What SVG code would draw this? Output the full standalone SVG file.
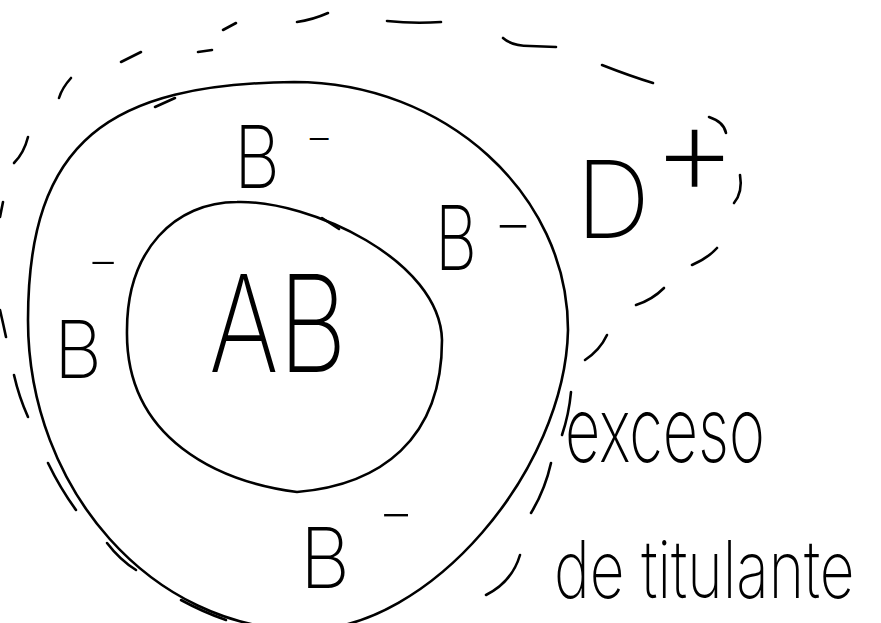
<svg xmlns="http://www.w3.org/2000/svg" width="881" height="623" viewBox="0 0 881 623">
<style>
.s{fill:none;stroke:#000;stroke-width:2.6;stroke-linecap:round;stroke-linejoin:round}
.t{font-family:Inter,Roboto,"Liberation Sans",sans-serif;font-weight:200;fill:#000}
</style>
<rect width="881" height="623" fill="#fff"/>
<g id="outer-dashed" class="s">
<path d="M223,30 L236,23"/>
<path d="M297,22 Q312,20 328,13"/>
<path d="M387,21 Q414,24 441,22"/>
<path d="M503,38 Q512,46 530,46 L556,47"/>
<path d="M602,65 Q630,76 653,83"/>
<path d="M709,117 Q724,122 726,133"/>
<path d="M740,175 Q743,192 734,203"/>
<path d="M717,248 Q708,258 692,265"/>
<path d="M664,288 Q652,300 636,305"/>
<path d="M607,335 Q600,350 585,360"/>
<path d="M571,392 Q569,414 562,435"/>
<path d="M551,463 Q545,490 531,513"/>
<path d="M520,555 Q512,582 486,595"/>
<path d="M121,62 L141,52"/>
<path d="M198,52 L212,50"/>
<path d="M71,78 Q62,88 59,98"/>
<path d="M28,137 Q24,153 14,163"/>
<path d="M3,202 L0,217"/>
<path d="M0,310 Q3,323 6,337"/>
<path d="M14,375 Q19,397 28,417"/>
<path d="M48,463 Q60,488 76,510"/>
<path d="M107,543 Q120,560 136,570"/>
<path d="M181,600 Q203,612 226,620"/>
</g>
<g id="outer-circle" class="s">
<path d="M294,82 C445,82 568,194 568,330 C565,470 430,630 305,630 C153,630 28,490 28,320 C28,140 110,84 294,82 Z"/>
<path d="M155,107 L175,98"/>
</g>
<g id="inner-circle" class="s">
<path d="M237,202 C310,200 440,260 442,340 C442,440 380,485 297,492 C220,482 125,440 127,330 C127,250 175,202 237,202 Z"/>
<path d="M322,218 L339,229"/>
</g>
<g id="label-AB"><text class="t" x="209" y="372" font-size="135" textLength="138" lengthAdjust="spacingAndGlyphs">AB</text></g>
<g id="label-B-top"><text class="t" font-size="87"><tspan x="234" y="188" textLength="46" lengthAdjust="spacingAndGlyphs">B</tspan><tspan x="305" y="152" font-size="44">−</tspan></text></g>
<g id="label-B-right"><text class="t" font-size="89"><tspan x="435" y="270" textLength="42" lengthAdjust="spacingAndGlyphs">B</tspan><tspan x="493" y="244" font-size="62">−</tspan></text></g>
<g id="label-B-left"><text class="t" font-size="80"><tspan x="54" y="378" textLength="48" lengthAdjust="spacingAndGlyphs">B</tspan><tspan x="87" y="277" font-size="50">−</tspan></text></g>
<g id="label-B-bottom"><text class="t" font-size="84"><tspan x="300" y="588" textLength="50" lengthAdjust="spacingAndGlyphs">B</tspan><tspan x="378" y="531" font-size="56">−</tspan></text></g>
<g id="label-D"><text class="t" font-size="107"><tspan x="576" y="238" textLength="74" lengthAdjust="spacingAndGlyphs">D</tspan><tspan x="652" y="196" font-size="132">+</tspan></text></g>
<g id="label-exceso"><text class="t" x="565" y="462" font-size="90" textLength="200" lengthAdjust="spacingAndGlyphs">exceso</text></g>
<g id="label-titulante"><text class="t" transform="translate(554,598) scale(0.754,1)" x="0" y="0" font-size="80">de titulante</text></g>
</svg>
